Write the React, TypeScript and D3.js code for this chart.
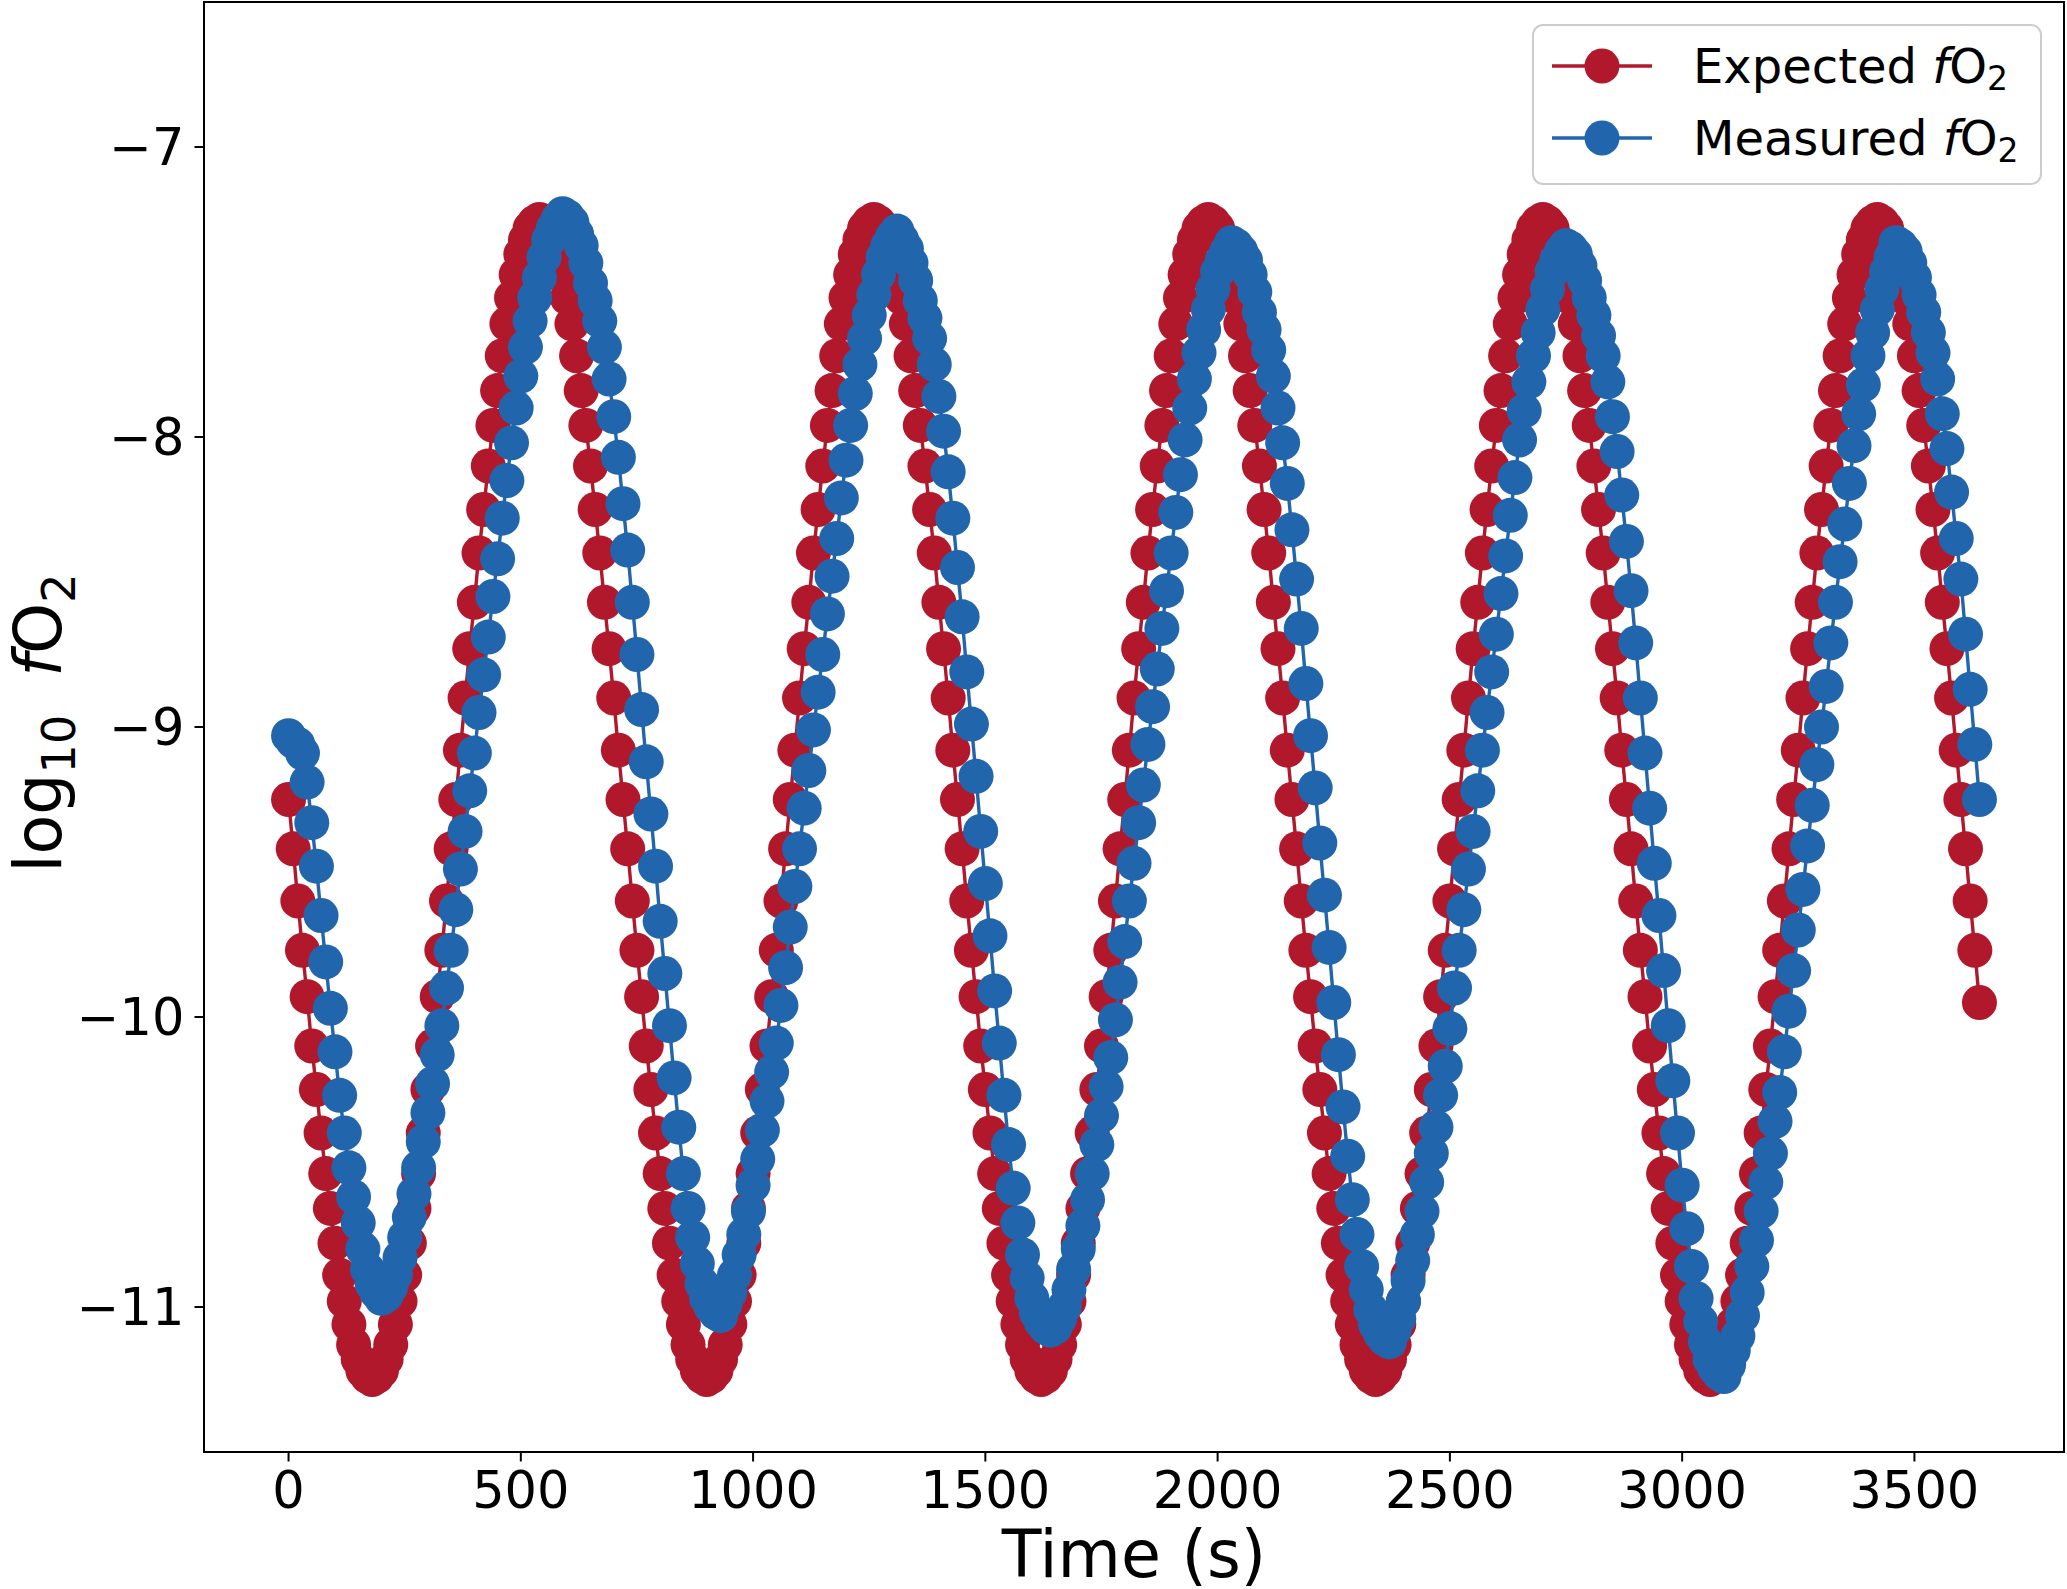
import React from 'react';
import * as d3 from 'd3';

// ---------------- data ----------------
const SAMPLE_STEP_S = 10; // one sample every 10 s, starting at t = 0

const expectedLogFO2: number[] = [
  -9.25,-9.42,-9.60,-9.77,-9.93,-10.10,-10.25,-10.40,-10.54,-10.66,-10.78,-10.89,-10.98,-11.06,-11.13,-11.18,-11.22,-11.24,-11.25,-11.24,-11.22,-11.18,-11.13,-11.06,-10.98,-10.89,-10.78,-10.66,-10.54,-10.40,-10.25,-10.10,-9.93,-9.77,-9.60,-9.42,
  -9.25,-9.08,-8.90,-8.73,-8.57,-8.40,-8.25,-8.10,-7.96,-7.84,-7.72,-7.61,-7.52,-7.44,-7.37,-7.32,-7.28,-7.26,-7.25,-7.26,-7.28,-7.32,-7.37,-7.44,-7.52,-7.61,-7.72,-7.84,-7.96,-8.10,-8.25,-8.40,-8.57,-8.73,-8.90,-9.08,
  -9.25,-9.42,-9.60,-9.77,-9.93,-10.10,-10.25,-10.40,-10.54,-10.66,-10.78,-10.89,-10.98,-11.06,-11.13,-11.18,-11.22,-11.24,-11.25,-11.24,-11.22,-11.18,-11.13,-11.06,-10.98,-10.89,-10.78,-10.66,-10.54,-10.40,-10.25,-10.10,-9.93,-9.77,-9.60,-9.42,
  -9.25,-9.08,-8.90,-8.73,-8.57,-8.40,-8.25,-8.10,-7.96,-7.84,-7.72,-7.61,-7.52,-7.44,-7.37,-7.32,-7.28,-7.26,-7.25,-7.26,-7.28,-7.32,-7.37,-7.44,-7.52,-7.61,-7.72,-7.84,-7.96,-8.10,-8.25,-8.40,-8.57,-8.73,-8.90,-9.08,
  -9.25,-9.42,-9.60,-9.77,-9.93,-10.10,-10.25,-10.40,-10.54,-10.66,-10.78,-10.89,-10.98,-11.06,-11.13,-11.18,-11.22,-11.24,-11.25,-11.24,-11.22,-11.18,-11.13,-11.06,-10.98,-10.89,-10.78,-10.66,-10.54,-10.40,-10.25,-10.10,-9.93,-9.77,-9.60,-9.42,
  -9.25,-9.08,-8.90,-8.73,-8.57,-8.40,-8.25,-8.10,-7.96,-7.84,-7.72,-7.61,-7.52,-7.44,-7.37,-7.32,-7.28,-7.26,-7.25,-7.26,-7.28,-7.32,-7.37,-7.44,-7.52,-7.61,-7.72,-7.84,-7.96,-8.10,-8.25,-8.40,-8.57,-8.73,-8.90,-9.08,
  -9.25,-9.42,-9.60,-9.77,-9.93,-10.10,-10.25,-10.40,-10.54,-10.66,-10.78,-10.89,-10.98,-11.06,-11.13,-11.18,-11.22,-11.24,-11.25,-11.24,-11.22,-11.18,-11.13,-11.06,-10.98,-10.89,-10.78,-10.66,-10.54,-10.40,-10.25,-10.10,-9.93,-9.77,-9.60,-9.42,
  -9.25,-9.08,-8.90,-8.73,-8.57,-8.40,-8.25,-8.10,-7.96,-7.84,-7.72,-7.61,-7.52,-7.44,-7.37,-7.32,-7.28,-7.26,-7.25,-7.26,-7.28,-7.32,-7.37,-7.44,-7.52,-7.61,-7.72,-7.84,-7.96,-8.10,-8.25,-8.40,-8.57,-8.73,-8.90,-9.08,
  -9.25,-9.42,-9.60,-9.77,-9.93,-10.10,-10.25,-10.40,-10.54,-10.66,-10.78,-10.89,-10.98,-11.06,-11.13,-11.18,-11.22,-11.24,-11.25,-11.24,-11.22,-11.18,-11.13,-11.06,-10.98,-10.89,-10.78,-10.66,-10.54,-10.40,-10.25,-10.10,-9.93,-9.77,-9.60,-9.42,
  -9.25,-9.08,-8.90,-8.73,-8.57,-8.40,-8.25,-8.10,-7.96,-7.84,-7.72,-7.61,-7.52,-7.44,-7.37,-7.32,-7.28,-7.26,-7.25,-7.26,-7.28,-7.32,-7.37,-7.44,-7.52,-7.61,-7.72,-7.84,-7.96,-8.10,-8.25,-8.40,-8.57,-8.73,-8.90,-9.08,
  -9.25,-9.42,-9.60,-9.77,-9.95,
];

const measuredLogFO2: number[] = [
  -9.03,-9.05,-9.06,-9.09,-9.19,-9.33,-9.48,-9.65,-9.81,-9.97,-10.12,-10.27,-10.40,-10.52,-10.62,-10.71,-10.80,-10.87,-10.92,-10.95,-10.97,
  -10.96,-10.93,-10.89,-10.83,-10.76,-10.69,-10.61,-10.52,-10.43,-10.33,-10.23,-10.13,-10.03,-9.90,-9.77,-9.63,-9.49,-9.36,-9.22,-9.09,-8.95,-8.82,-8.69,-8.55,-8.42,-8.28,-8.15,-8.02,-7.90,-7.79,-7.69,-7.60,-7.52,-7.45,-7.38,-7.32,-7.28,-7.25,-7.23,
  -7.24,-7.26,-7.30,-7.34,-7.40,-7.47,-7.53,-7.60,-7.69,-7.80,-7.93,-8.07,-8.23,-8.39,-8.57,-8.75,-8.94,-9.12,-9.30,-9.48,-9.67,-9.85,-10.03,-10.21,-10.38,-10.54,-10.66,-10.76,-10.85,-10.92,-10.97,-11.00,-11.02,-11.03,
  -10.99,-10.95,-10.89,-10.82,-10.75,-10.67,-10.58,-10.49,-10.39,-10.29,-10.19,-10.09,-9.96,-9.83,-9.69,-9.55,-9.42,-9.28,-9.15,-9.01,-8.88,-8.75,-8.61,-8.48,-8.35,-8.21,-8.08,-7.96,-7.85,-7.75,-7.66,-7.58,-7.51,-7.44,-7.38,-7.34,-7.31,-7.29,
  -7.32,-7.35,-7.40,-7.46,-7.53,-7.59,-7.66,-7.75,-7.86,-7.98,-8.12,-8.28,-8.45,-8.62,-8.81,-8.99,-9.17,-9.36,-9.54,-9.72,-9.91,-10.09,-10.27,-10.44,-10.59,-10.71,-10.82,-10.90,-10.97,-11.02,-11.05,-11.07,-11.08,
  -11.07,-11.04,-11.00,-10.94,-10.87,-10.80,-10.72,-10.63,-10.54,-10.44,-10.34,-10.24,-10.14,-10.01,-9.88,-9.74,-9.60,-9.47,-9.33,-9.20,-9.06,-8.93,-8.80,-8.66,-8.53,-8.40,-8.26,-8.13,-8.01,-7.90,-7.80,-7.71,-7.63,-7.56,-7.49,-7.43,-7.39,-7.36,-7.33,
  -7.34,-7.36,-7.39,-7.44,-7.50,-7.57,-7.63,-7.70,-7.79,-7.90,-8.02,-8.16,-8.32,-8.49,-8.66,-8.85,-9.03,-9.21,-9.40,-9.58,-9.76,-9.95,-10.13,-10.31,-10.48,-10.63,-10.75,-10.86,-10.94,-11.01,-11.06,-11.09,-11.11,-11.12,
  -11.08,-11.04,-10.98,-10.91,-10.84,-10.75,-10.67,-10.57,-10.47,-10.38,-10.27,-10.17,-10.04,-9.90,-9.77,-9.63,-9.49,-9.36,-9.22,-9.08,-8.95,-8.81,-8.68,-8.54,-8.41,-8.27,-8.14,-8.01,-7.91,-7.81,-7.72,-7.64,-7.56,-7.49,-7.43,-7.39,-7.36,-7.34,
  -7.35,-7.37,-7.41,-7.46,-7.52,-7.58,-7.65,-7.72,-7.81,-7.93,-8.05,-8.20,-8.36,-8.53,-8.71,-8.90,-9.09,-9.28,-9.47,-9.65,-9.84,-10.03,-10.22,-10.40,-10.58,-10.73,-10.86,-10.97,-11.05,-11.12,-11.18,-11.21,-11.23,-11.24,
  -11.20,-11.15,-11.10,-11.03,-10.95,-10.86,-10.77,-10.67,-10.57,-10.47,-10.36,-10.26,-10.12,-9.98,-9.84,-9.70,-9.56,-9.41,-9.27,-9.13,-9.00,-8.86,-8.71,-8.57,-8.43,-8.30,-8.16,-8.03,-7.92,-7.82,-7.72,-7.64,-7.56,-7.49,-7.43,-7.38,-7.33,
  -7.34,-7.36,-7.40,-7.45,-7.51,-7.57,-7.64,-7.71,-7.80,-7.92,-8.04,-8.19,-8.35,-8.49,-8.68,-8.87,-9.06,-9.25,
];

const xTickValues = [0, 500, 1000, 1500, 2000, 2500, 3000, 3500];
const yTickValues = [-11, -10, -9, -8, -7];
const xDomain: [number, number] = [-182, 3822];
const yDomain: [number, number] = [-11.5, -6.5];

const seriesNames = ['Expected', 'Measured'];
const seriesColors = ['#b2182b', '#2166ac'];

// ---------------- layout ----------------
const W = 2067;
const H = 1589;
const PLOT = { left: 204, right: 2064, top: 2, bottom: 1452 };
const FONT = "'DejaVu Sans', sans-serif";
const TICK_FS = 51;
const LABEL_FS = 65;
const LEGEND_FS = 48;
const MARKER_R = 17.5;
const LINE_W = 3.4;
const TICK_LEN = 9.5;

export default function App() {
  const x = d3.scaleLinear().domain(xDomain).range([PLOT.left, PLOT.right]);
  const y = d3.scaleLinear().domain(yDomain).range([PLOT.bottom, PLOT.top]);
  const fmt = d3.format('d');

  const toPoints = (vals: number[]) => vals.map((v, i) => [i * SAMPLE_STEP_S, v] as [number, number]);
  const series = [toPoints(expectedLogFO2), toPoints(measuredLogFO2)];
  const lineGen = d3.line<[number, number]>().x(d => x(d[0])).y(d => y(d[1]));

  const legendX = 1533, legendY = 25, legendW = 508, legendH = 159;
  const legendRows = [66, 138];

  return (
    <svg width={W} height={H} viewBox={`0 0 ${W} ${H}`}
      style={{ position: 'absolute', left: 0, top: 0, background: '#fff' }}
      fontFamily={FONT}>
      <rect x={0} y={0} width={W} height={H} fill="#fff" />

      {series.map((pts, s) => (
        <g key={seriesNames[s]}>
          <path d={lineGen(pts) || ''} fill="none" stroke={seriesColors[s]} strokeWidth={LINE_W} strokeLinejoin="round" />
          {pts.map((p, i) => (
            <circle key={i} cx={x(p[0])} cy={y(p[1])} r={MARKER_R} fill={seriesColors[s]} />
          ))}
        </g>
      ))}

      {/* frame */}
      <rect x={PLOT.left} y={PLOT.top} width={PLOT.right - PLOT.left} height={PLOT.bottom - PLOT.top}
        fill="none" stroke="#000" strokeWidth={2} />

      {/* x ticks */}
      {xTickValues.map(t => (
        <g key={t}>
          <line x1={x(t)} x2={x(t)} y1={PLOT.bottom} y2={PLOT.bottom + TICK_LEN} stroke="#000" strokeWidth={2} />
          <text x={x(t)} y={PLOT.bottom + 56} fontSize={TICK_FS} textAnchor="middle" fill="#000">{fmt(t)}</text>
        </g>
      ))}
      {/* y ticks */}
      {yTickValues.map(t => (
        <g key={t}>
          <line x1={PLOT.left - TICK_LEN} x2={PLOT.left} y1={y(t)} y2={y(t)} stroke="#000" strokeWidth={2} />
          <text x={PLOT.left - TICK_LEN - 10} y={y(t) + 18} fontSize={TICK_FS} textAnchor="end" fill="#000">{fmt(t)}</text>
        </g>
      ))}

      {/* axis labels */}
      <text x={(PLOT.left + PLOT.right) / 2} y={1577} fontSize={LABEL_FS} textAnchor="middle" fill="#000">Time (s)</text>
      <text transform={`translate(61, ${(PLOT.top + PLOT.bottom) / 2 - 4}) rotate(-90)`} fontSize={LABEL_FS} textAnchor="middle" fill="#000">
        log<tspan fontSize={46} dy={14}>10</tspan><tspan dx={38} dy={-14} fontStyle="italic">f</tspan>O<tspan fontSize={46} dy={14}>2</tspan>
      </text>

      {/* legend */}
      <rect x={legendX} y={legendY} width={legendW} height={legendH} rx={10} ry={10}
        fill="#fff" fillOpacity={0.8} stroke="#cccccc" strokeWidth={2} />
      {seriesNames.map((name, s) => (
        <g key={name}>
          <line x1={1552} x2={1652} y1={legendRows[s]} y2={legendRows[s]} stroke={seriesColors[s]} strokeWidth={LINE_W} />
          <circle cx={1602} cy={legendRows[s]} r={MARKER_R} fill={seriesColors[s]} />
          <text x={1693} y={legendRows[s] + 17} fontSize={LEGEND_FS} fill="#000">
            {name} <tspan fontStyle="italic">f</tspan>O<tspan fontSize={33} dy={7}>2</tspan>
          </text>
        </g>
      ))}
    </svg>
  );
}
